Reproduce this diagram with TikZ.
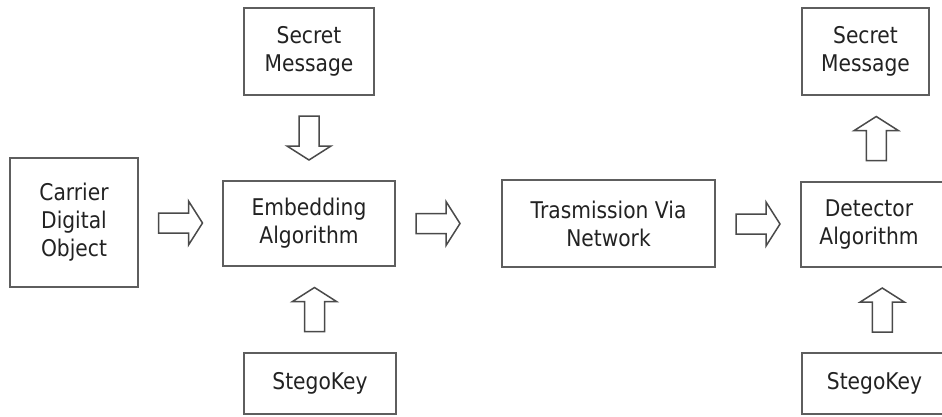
\documentclass[tikz,border=0pt]{standalone}
\usepackage{fontspec}
\setmainfont{DejaVu Sans}[FakeStretch=0.88]
\usetikzlibrary{calc}
\definecolor{boxline}{HTML}{5E5E5E}
\definecolor{arrline}{HTML}{4A4A4A}
\definecolor{txt}{HTML}{222222}
\begin{document}
\begin{tikzpicture}[x=1pt,y=-1pt,
  blk/.style={draw=boxline, line width=2pt, rectangle, align=center,
    text=txt, font=\fontsize{23}{28}\selectfont, inner sep=0pt},
  hollowline/.style={draw=arrline, line width=1.5pt, fill=white, line join=miter},
  barrow/.pic={\path[hollowline] (-22,-10) -- (8,-10) -- (8,-22) -- (22,0) -- (8,22) -- (8,10) -- (-22,10) -- cycle;}
]
\useasboundingbox (0,0) rectangle (942,416);
\clip (0,0) rectangle (942,416);
\fill[white] (0,0) rectangle (942,416);

\node[blk, minimum width=128pt, minimum height=129pt] (carrier) at (74,222.5) {Carrier\\Digital\\Object};
\node[blk, minimum width=130pt, minimum height=87pt] (secretA) at (309,51.5) {Secret\\Message};
\node[blk, minimum width=172pt, minimum height=85pt] (embed) at (309,223.5) {Embedding\\Algorithm};
\node[blk, minimum width=152pt, minimum height=61pt] (stegoA) at (320,383.5) {StegoKey};
\node[blk, minimum width=213pt, minimum height=87pt] (trans) at (608.5,223.5) {Trasmission Via\\Network};
\node[blk, minimum width=127pt, minimum height=87pt] (secretB) at (865.5,51.5) {Secret\\Message};
\node[blk, minimum width=172pt, minimum height=85pt] (detect) at (887,224.5) {Detector\hspace*{36pt}\\Algorithm\hspace*{36pt}};
\node[blk, minimum width=151pt, minimum height=61pt] (stegoB) at (877.5,383.5) {StegoKey\hspace*{6pt}};

\pic at ($(carrier.east)!0.5!(embed.west)$) {barrow};
\pic at ($(embed.east)!0.4!(trans.west)$) {barrow};
\pic at ($(trans.east)!0.5!(detect.west)$) {barrow};
\pic[rotate=-90] at ($(secretA.south)!0.5!(embed.north)$) {barrow};
\pic[rotate=90] at ($(embed.south)!0.5!(stegoA.north)$) {barrow};
\pic[rotate=90] at ($(secretB.south)!0.5!(detect.north)$) {barrow};
\pic[rotate=90] at ($(detect.south)!0.5!(stegoB.north)$) {barrow};
\end{tikzpicture}
\end{document}
